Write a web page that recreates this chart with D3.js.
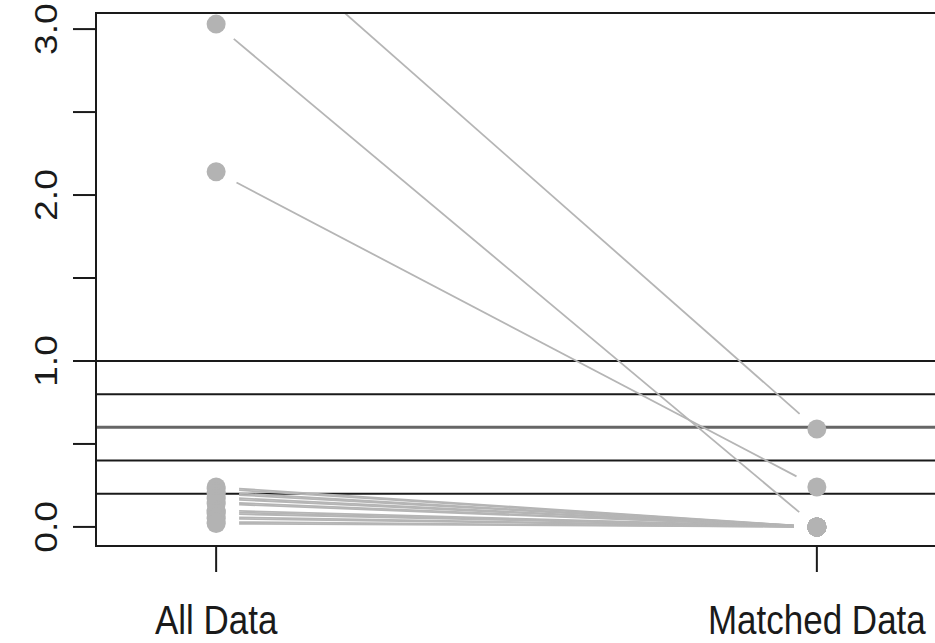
<!DOCTYPE html>
<html>
<head>
<meta charset="utf-8">
<script src="https://cdn.jsdelivr.net/npm/d3@7"></script>
<style>
  body { margin: 0; background: #fff; }
  text { font-family: "Liberation Sans", Arial, Helvetica, sans-serif; fill: #1a1a1a; }
</style>
</head>
<body>
<div id="chart"></div>
<script>
// data
const groups = ["All Data", "Matched Data"];
const allValues     = [3.78, 3.03, 2.14, 0.24, 0.23, 0.21, 0.20, 0.18, 0.17, 0.15, 0.14, 0.10, 0.09, 0.08, 0.06, 0.05, 0.03, 0.02];
const matchedValues = [0.59, 0.00, 0.24, 0.00, 0.00, 0.00, 0.00, 0.00, 0.00, 0.00, 0.00, 0.00, 0.00, 0.00, 0.00, 0.00, 0.00, 0.00];
const refLines = [1.0, 0.8, 0.6, 0.4, 0.2];
const yTicks = [0, 0.5, 1, 1.5, 2, 2.5, 3];
const yLabels = [0, 1, 2, 3];

const W = 935, H = 643;
const box = { left: 96, right: 937, top: 13, bottom: 546 };

const svg = d3.select("#chart").append("svg")
    .attr("width", W)
    .attr("height", H);

const x = d3.scaleLinear().domain([0.8, 2.2]).range([box.left, box.right]);
const y = d3.scaleLinear().domain([-0.115, 3.097]).range([box.bottom, box.top]);

svg.append("clipPath").attr("id", "plotClip")
  .append("rect")
    .attr("x", box.left).attr("y", box.top)
    .attr("width", box.right - box.left).attr("height", box.bottom - box.top);

const plot = svg.append("g").attr("clip-path", "url(#plotClip)");

// reference lines
plot.selectAll(".ref")
    .data(refLines)
    .enter()
    .append("line")
    .attr("x1", box.left).attr("x2", box.right)
    .attr("y1", d => y(d)).attr("y2", d => y(d))
    .attr("stroke", d => d === 0.6 ? "#666" : "#1a1a1a")
    .attr("stroke-width", d => d === 0.6 ? 3 : 2);

// paired lines, with a gap round each point (type = "b")
const gap = 23;
const pairs = allValues.map((v, i) => ({ a: v, b: matchedValues[i] }));

plot.selectAll(".pair")
    .data(pairs)
    .enter()
    .append("line")
    .each(function(d) {
      const x1 = x(1), y1 = y(d.a), x2 = x(2), y2 = y(d.b);
      const len = Math.hypot(x2 - x1, y2 - y1);
      const ux = (x2 - x1) / len, uy = (y2 - y1) / len;
      d3.select(this)
          .attr("x1", x1 + ux * gap).attr("y1", y1 + uy * gap)
          .attr("x2", x2 - ux * gap).attr("y2", y2 - uy * gap);
    })
    .attr("stroke", "#b5b5b5")
    .attr("stroke-width", 1.8);

// points
plot.selectAll(".ptA")
    .data(allValues)
    .enter()
    .append("circle")
    .attr("cx", x(1))
    .attr("cy", d => y(d))
    .attr("r", 9.5)
    .attr("fill", "#b3b3b3");

plot.selectAll(".ptB")
    .data(matchedValues)
    .enter()
    .append("circle")
    .attr("cx", x(2))
    .attr("cy", d => y(d))
    .attr("r", 9.5)
    .attr("fill", "#b3b3b3");

// box
svg.append("rect")
    .attr("x", box.left).attr("y", box.top)
    .attr("width", box.right - box.left).attr("height", box.bottom - box.top)
    .attr("fill", "none")
    .attr("stroke", "#1a1a1a")
    .attr("stroke-width", 2);

// y axis
const yAxis = svg.append("g");
yAxis.append("line")
    .attr("x1", box.left).attr("x2", box.left)
    .attr("y1", y(0)).attr("y2", y(3))
    .attr("stroke", "#1a1a1a").attr("stroke-width", 2);
yAxis.selectAll(".tick")
    .data(yTicks)
    .enter()
    .append("line")
    .attr("x1", box.left - 23).attr("x2", box.left)
    .attr("y1", d => y(d)).attr("y2", d => y(d))
    .attr("stroke", "#1a1a1a").attr("stroke-width", 2);
yAxis.selectAll(".lab")
    .data(yLabels)
    .enter()
    .append("text")
    .attr("transform", d => `translate(57, ${y(d)}) rotate(-90) scale(1.2, 1)`)
    .attr("text-anchor", "middle")
    .style("font-size", "31px")
    .text(d => d3.format(".1f")(d));

// x axis
const xAxis = svg.append("g");
xAxis.append("line")
    .attr("x1", x(1)).attr("x2", x(2))
    .attr("y1", box.bottom).attr("y2", box.bottom)
    .attr("stroke", "#1a1a1a").attr("stroke-width", 2);
xAxis.selectAll(".tick")
    .data(groups)
    .enter()
    .append("line")
    .attr("x1", (d, i) => x(i + 1)).attr("x2", (d, i) => x(i + 1))
    .attr("y1", box.bottom).attr("y2", box.bottom + 26)
    .attr("stroke", "#1a1a1a").attr("stroke-width", 2);
xAxis.selectAll(".lab")
    .data(groups)
    .enter()
    .append("text")
    .attr("transform", (d, i) => `translate(${x(i + 1)}, 634) scale(1, 1.18)`)
    .attr("text-anchor", "middle")
    .style("font-size", "35px")
    .text(d => d);
</script>
</body>
</html>
